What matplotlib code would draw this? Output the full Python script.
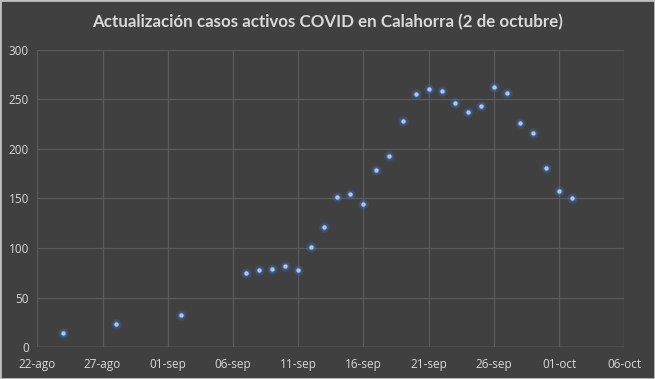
import datetime as dt
import matplotlib
matplotlib.use('Agg')
import matplotlib.pyplot as plt

# fechas y casos activos
fechas = ['2020-08-24', '2020-08-28', '2020-09-02',
          '2020-09-07', '2020-09-08', '2020-09-09', '2020-09-10', '2020-09-11',
          '2020-09-12', '2020-09-13', '2020-09-14', '2020-09-15', '2020-09-16',
          '2020-09-17', '2020-09-18', '2020-09-19', '2020-09-20', '2020-09-21',
          '2020-09-22', '2020-09-23', '2020-09-24', '2020-09-25', '2020-09-26',
          '2020-09-27', '2020-09-28', '2020-09-29', '2020-09-30', '2020-10-01',
          '2020-10-02']
casos = [14, 24, 33,
         75, 78, 79, 82, 78,
         101, 121, 151, 155, 144,
         179, 193, 228, 255, 260,
         258, 246, 237, 243, 262,
         256, 226, 216, 181, 158,
         150]
tick_labels = ['22-ago', '27-ago', '01-sep', '06-sep', '11-sep',
               '16-sep', '21-sep', '26-sep', '01-oct', '06-oct']

x = [dt.datetime.strptime(f, '%Y-%m-%d') for f in fechas]
x0 = dt.datetime(2020, 8, 22)
ticks = [x0 + dt.timedelta(days=5 * i) for i in range(len(tick_labels))]

bg = '#404040'
txt = '#d9d9d9'
grid = '#5a5a5a'

plt.rcParams['font.family'] = ['Open Sans', 'DejaVu Sans']

fig = plt.figure(figsize=(6.55, 3.79), dpi=100, facecolor=bg)
fig.patches.append(plt.Rectangle((0, 0), 1, 1, transform=fig.transFigure,
                                 fill=False, edgecolor='#bfbfbf', linewidth=2))
ax = fig.add_axes([0.057, 0.0836, 0.896, 0.7854])
ax.set_facecolor(bg)

# glow + point
ax.scatter(x, casos, s=60, color='#4472c4', alpha=0.2, linewidths=0, zorder=3)
ax.scatter(x, casos, s=30, color='#4472c4', alpha=0.4, linewidths=0, zorder=3)
ax.scatter(x, casos, s=10, color='#a9c8ec', linewidths=0, zorder=4)

ax.set_xlim(ticks[0], ticks[-1])
ax.set_ylim(0, 300)
ax.set_xticks(ticks)
ax.set_xticklabels(tick_labels)
ax.set_yticks(range(0, 301, 50))

ax.grid(True, color=grid, linewidth=0.9)
ax.set_axisbelow(True)
for s in ax.spines.values():
    s.set_visible(False)
ax.axhline(0, color='#6a6a6a', linewidth=1, zorder=2)
ax.tick_params(length=0, colors=txt, labelsize=8.5)
ax.tick_params(axis='x', pad=8)
ax.tick_params(axis='y', pad=6)

fig.text(0.5, 0.942, 'Actualización casos activos COVID en Calahorra (2 de octubre)',
         ha='center', va='center', color=txt, fontsize=12.2, fontweight='bold',
         family=['Lato', 'DejaVu Sans'])

fig.savefig('out.png', dpi=100, facecolor=bg)
